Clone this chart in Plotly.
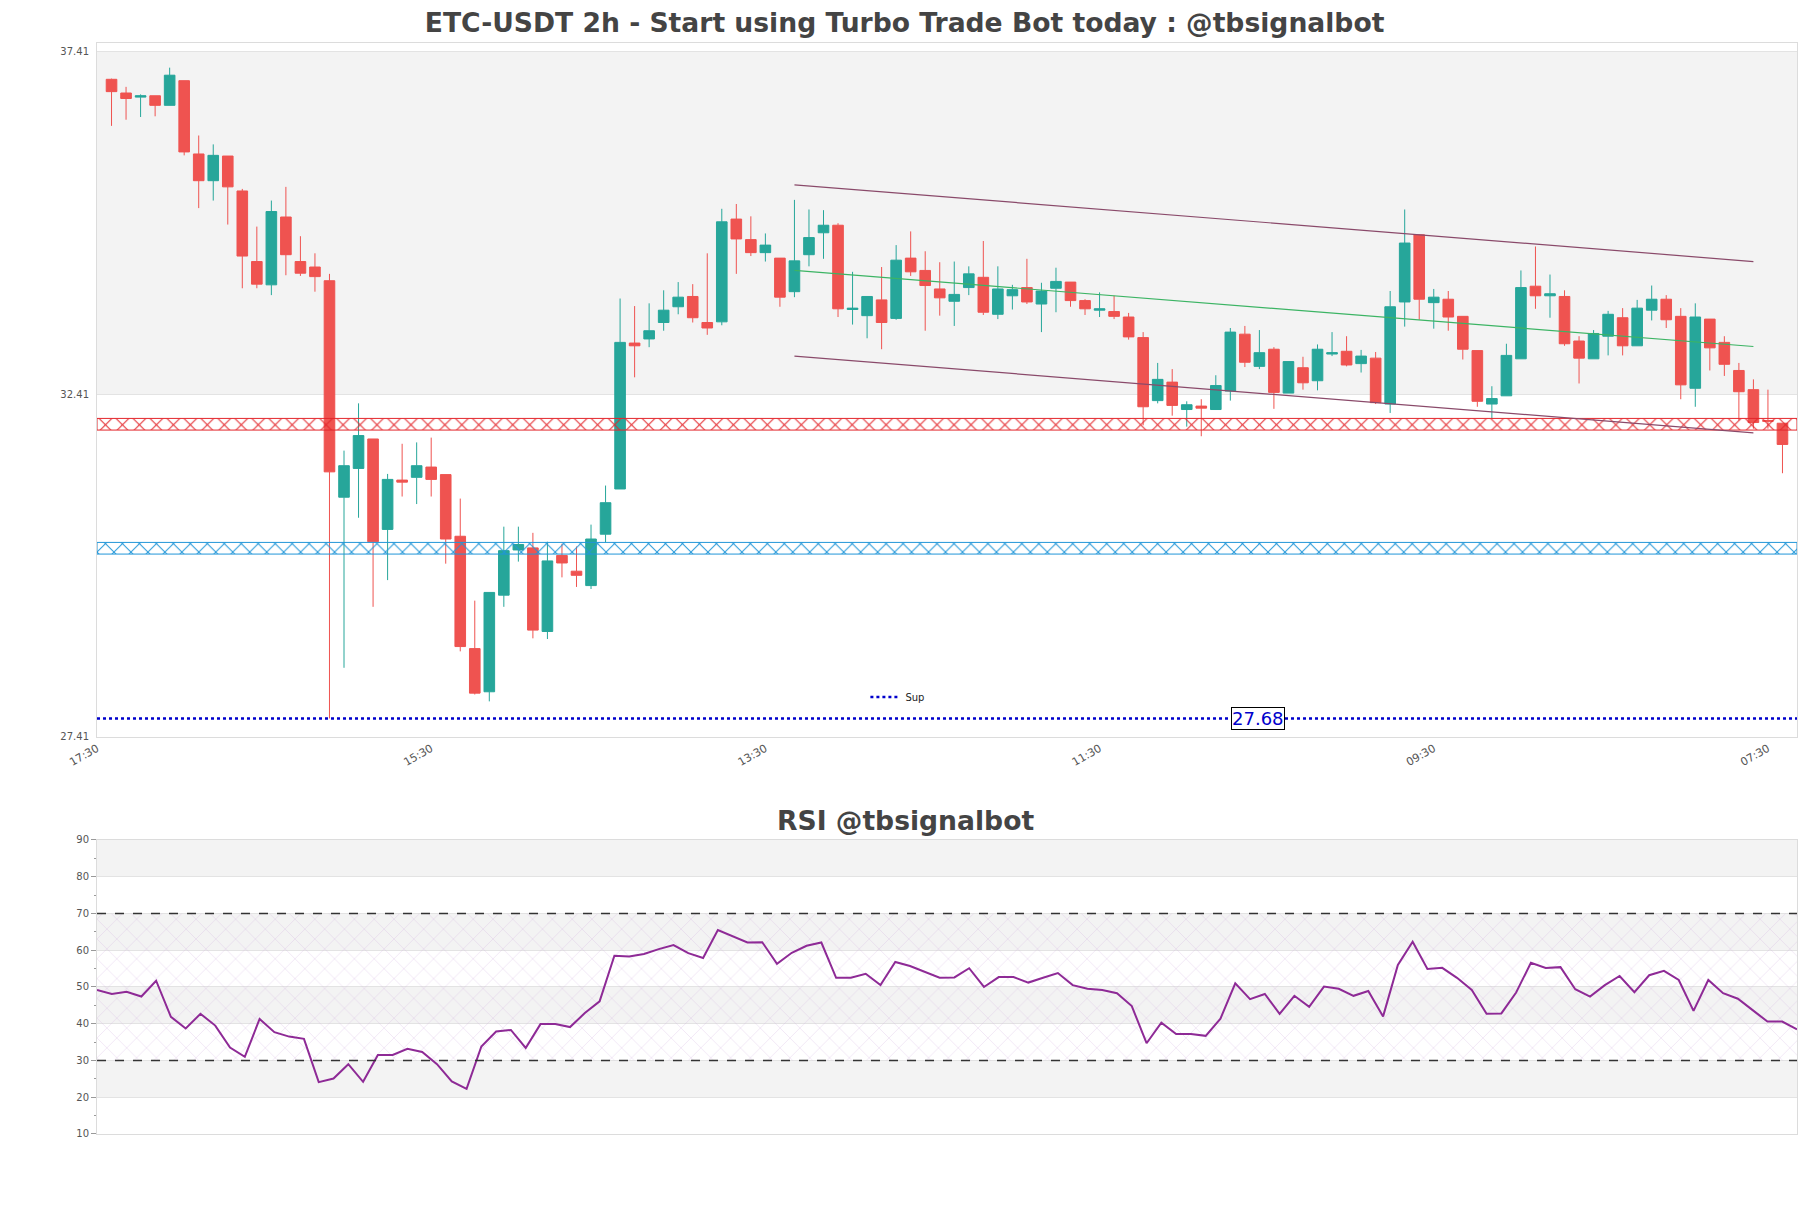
import plotly.graph_objects as go
from datetime import datetime, timedelta

# ---------------- data ----------------
opens = [37.01, 36.81, 36.75, 36.77, 36.63, 36.99, 35.92, 35.53, 35.89, 35.38,
         34.35, 34.01, 35.00, 34.35, 34.27, 34.07, 30.91, 31.33, 31.76, 30.44,
         31.16, 31.20, 31.35, 31.24, 30.34, 28.70, 28.07, 29.48, 30.14, 30.17,
         28.95, 30.06, 29.83, 29.62, 30.37, 31.03, 33.16, 33.22, 33.46, 33.69,
         33.84, 33.46, 33.47, 34.97, 34.67, 34.48, 34.40, 33.91, 34.45, 34.77,
         34.88, 33.65, 33.56, 33.79, 33.52, 34.40, 34.22, 33.95, 33.77, 33.97,
         34.12, 33.58, 33.85, 33.97, 33.73, 33.96, 34.05, 33.78, 33.64, 33.62,
         33.54, 33.24, 32.32, 32.59, 32.19, 32.24, 32.19, 32.46, 33.29, 32.82,
         33.07, 32.43, 32.80, 32.61, 33.00, 33.04, 32.86, 32.94, 32.27, 33.76,
         34.74, 33.75, 33.80, 33.55, 33.05, 32.27, 32.39, 32.93, 33.99, 33.85,
         33.84, 33.19, 32.93, 33.26, 33.53, 33.12, 33.64, 33.80, 33.55, 32.50,
         33.51, 33.17, 32.76, 32.48, 32.03, 31.99]
highs = [37.02, 36.90, 36.79, 36.77, 37.18, 36.99, 36.19, 36.06, 35.89, 35.41,
         34.86, 35.24, 35.44, 34.72, 34.47, 34.17, 31.59, 32.28, 31.76, 31.25,
         31.69, 31.71, 31.78, 31.24, 30.89, 29.40, 29.52, 30.48, 30.48, 30.39,
         30.26, 30.23, 30.19, 30.51, 31.08, 33.81, 33.70, 33.74, 33.93, 34.05,
         34.02, 34.47, 35.12, 35.19, 35.01, 34.76, 34.40, 35.25, 35.11, 35.10,
         34.91, 34.20, 33.84, 34.27, 34.59, 34.79, 34.50, 34.34, 34.35, 34.28,
         34.65, 34.28, 34.01, 34.39, 34.04, 34.26, 34.05, 33.80, 33.90, 33.85,
         33.60, 33.32, 32.87, 32.78, 32.31, 32.34, 32.69, 33.38, 33.41, 33.35,
         33.10, 32.89, 32.96, 33.14, 33.32, 33.26, 33.06, 33.03, 33.92, 35.11,
         34.74, 33.95, 33.92, 33.55, 33.05, 32.53, 33.15, 34.22, 34.57, 34.16,
         33.93, 33.26, 33.35, 33.63, 33.67, 33.79, 34.00, 33.86, 33.67, 33.74,
         33.51, 33.26, 32.87, 32.63, 32.48, 31.99]
lows = [36.33, 36.42, 36.46, 36.47, 36.63, 35.90, 35.13, 35.24, 34.89, 33.96,
        33.96, 33.86, 34.15, 34.14, 33.91, 27.68, 28.42, 30.61, 29.31, 29.70,
        30.92, 30.81, 30.92, 29.94, 28.66, 28.03, 27.93, 29.31, 29.97, 28.85,
        28.84, 29.74, 29.60, 29.57, 30.25, 31.03, 32.66, 33.10, 33.34, 33.58,
        33.46, 33.28, 33.42, 34.17, 34.43, 34.35, 33.69, 33.83, 34.28, 34.39,
        33.54, 33.43, 33.23, 33.07, 33.50, 34.14, 33.34, 33.56, 33.41, 33.86,
        33.57, 33.51, 33.65, 33.73, 33.32, 33.61, 33.69, 33.57, 33.54, 33.51,
        33.21, 31.96, 32.28, 32.10, 31.94, 31.80, 32.19, 32.32, 32.81, 32.78,
        32.20, 32.43, 32.48, 32.47, 32.97, 32.82, 32.73, 32.27, 32.14, 33.40,
        33.50, 33.37, 33.34, 32.92, 32.23, 32.05, 32.39, 32.93, 33.66, 33.53,
        33.12, 32.57, 32.93, 32.98, 32.98, 33.12, 33.49, 33.38, 32.34, 32.23,
        32.76, 32.68, 32.03, 31.91, 31.91, 31.26]
closes = [36.83, 36.73, 36.77, 36.63, 37.07, 35.95, 35.53, 35.90, 35.44, 34.43,
          34.02, 35.08, 34.45, 34.18, 34.13, 31.28, 31.37, 31.81, 30.26, 31.17,
          31.13, 31.37, 31.17, 30.30, 28.73, 28.05, 29.52, 30.13, 30.22, 28.97,
          29.98, 29.95, 29.77, 30.30, 30.83, 33.17, 33.12, 33.34, 33.64, 33.83,
          33.53, 33.38, 34.93, 34.68, 34.48, 34.59, 33.83, 34.36, 34.70, 34.88,
          33.66, 33.67, 33.84, 33.46, 34.37, 34.20, 34.00, 33.82, 33.87, 34.17,
          33.61, 33.95, 33.94, 33.76, 33.92, 34.06, 33.78, 33.66, 33.66, 33.55,
          33.25, 32.23, 32.63, 32.25, 32.26, 32.21, 32.54, 33.32, 32.88, 33.02,
          32.44, 32.89, 32.58, 33.07, 33.02, 32.84, 32.97, 32.29, 33.69, 34.62,
          33.80, 33.83, 33.54, 33.07, 32.31, 32.35, 32.98, 33.97, 33.85, 33.88,
          33.15, 32.94, 33.30, 33.58, 33.12, 33.67, 33.80, 33.50, 32.55, 33.54,
          33.09, 32.85, 32.45, 32.00, 32.02, 31.68]
rsi = [49.2, 48.1, 48.7, 47.4, 51.7, 41.9, 38.7, 42.7, 39.5, 33.5,
       31.0, 41.3, 37.7, 36.5, 35.9, 24.1, 25.1, 29.0, 24.2, 31.5,
       31.5, 33.2, 32.3, 29.0, 24.3, 22.3, 33.8, 37.9, 38.3, 33.4,
       39.9, 39.9, 39.1, 42.9, 46.1, 58.5, 58.3, 59.0, 60.3, 61.4,
       59.2, 57.9, 65.5, 63.7, 62.1, 62.2, 56.3, 59.3, 61.2, 62.1,
       52.5, 52.5, 53.6, 50.5, 56.8, 55.7, 54.2, 52.5, 52.6, 55.1,
       50.0, 52.7, 52.7, 51.2, 52.5, 53.8, 50.5, 49.5, 49.2, 48.3,
       44.8, 34.7, 40.3, 37.2, 37.2, 36.7, 41.4, 51.0, 46.7, 48.1,
       42.7, 47.6, 44.6, 50.1, 49.5, 47.6, 48.9, 42.0, 56.0, 62.3,
       54.9, 55.2, 52.5, 49.2, 42.7, 42.8, 48.5, 56.6, 55.2, 55.4,
       49.4, 47.4, 50.5, 53.0, 48.6, 53.2, 54.4, 51.9, 43.5, 51.9,
       48.3, 46.8, 43.7, 40.6, 40.6, 38.5]

tick_labels = ["17:30", "15:30", "13:30", "11:30", "09:30", "07:30"]
price_ticks = [27.41, 32.41, 37.41]
rsi_ticks = [10, 20, 30, 40, 50, 60, 70, 80, 90]
sup_level = 27.68
res_zone = [31.89, 32.06]
sup_zone = [30.08, 30.25]
channel_idx = [47, 113]
channel_upper = [35.47, 34.35]
channel_mid = [34.22, 33.11]
channel_lower = [32.97, 31.85]
rsi_levels = [30, 70]

# ---------------- time axis ----------------
start = datetime(2023, 11, 20, 19, 30)
step = timedelta(hours=2)
times = [start + i * step for i in range(len(opens))]
x_lo = start - step
x_hi = times[-1] + step
tickvals = [x_lo + i * 23 * step for i in range(len(tick_labels))]

INC = "#26a69a"
DEC = "#ef5350"
FONT = "DejaVu Sans"

fig = go.Figure()

# hatched zones
for zone, col in [(res_zone, "#e3262b"), (sup_zone, "#2196d8")]:
    fig.add_trace(go.Scatter(
        x=[x_lo, x_hi, x_hi, x_lo, x_lo],
        y=[zone[0], zone[0], zone[1], zone[1], zone[0]],
        fill="toself", mode="lines",
        line=dict(width=1, color=col),
        fillcolor="rgba(0,0,0,0)",
        fillpattern=dict(shape="x", fgcolor=col, fgopacity=1,
                         bgcolor="rgba(255,255,255,0)", size=12, solidity=0.16),
        showlegend=False, hoverinfo="skip", xaxis="x", yaxis="y"))

# channel lines
cx = [times[channel_idx[0]], times[channel_idx[1]]]
for ys, col in [(channel_upper, "#8a4a6a"), (channel_lower, "#8a4a6a"),
                (channel_mid, "#3cb464")]:
    fig.add_trace(go.Scatter(x=cx, y=ys, mode="lines",
                             line=dict(color=col, width=1.2),
                             showlegend=False, hoverinfo="skip"))

# support line
fig.add_trace(go.Scatter(x=[x_lo, x_hi], y=[sup_level, sup_level], mode="lines",
                         name="Sup", line=dict(color="#0000cc", width=2.5, dash="dot"),
                         showlegend=True))

# candles
fig.add_trace(go.Candlestick(
    x=times, open=opens, high=highs, low=lows, close=closes,
    increasing=dict(line=dict(color=INC, width=1), fillcolor=INC),
    decreasing=dict(line=dict(color=DEC, width=1), fillcolor=DEC),
    showlegend=False, whiskerwidth=0))

# RSI hatch region
fig.add_trace(go.Scatter(
    x=[times[0], times[-1], times[-1], times[0], times[0]],
    y=[rsi_levels[0], rsi_levels[0], rsi_levels[1], rsi_levels[1], rsi_levels[0]],
    fill="toself", mode="lines", line=dict(width=0),
    fillcolor="rgba(0,0,0,0)",
    fillpattern=dict(shape="x", fgcolor="rgb(205,165,220)", fgopacity=0.6,
                     bgcolor="rgba(255,255,255,0)", size=14, solidity=0.06),
    showlegend=False, hoverinfo="skip", xaxis="x2", yaxis="y2"))

fig.add_trace(go.Scatter(x=times, y=rsi, mode="lines",
                         line=dict(color="#8e2a96", width=2),
                         showlegend=False, xaxis="x2", yaxis="y2"))

# RSI levels
for lv in rsi_levels:
    fig.add_trace(go.Scatter(x=[times[0], times[-1]], y=[lv, lv], mode="lines",
                             line=dict(color="#333333", width=1.3, dash="dash"),
                             showlegend=False, hoverinfo="skip",
                             xaxis="x2", yaxis="y2"))

shapes = [dict(type="rect", xref="x domain", yref="y", x0=0, x1=1,
               y0=price_ticks[1], y1=price_ticks[2],
               fillcolor="#f3f3f3", line=dict(width=0), layer="below")]
for i in range(1, len(rsi_ticks) - 1, 2):
    shapes.append(dict(type="rect", xref="x2 domain", yref="y2", x0=0, x1=1,
                       y0=rsi_ticks[i], y1=rsi_ticks[i + 1],
                       fillcolor="#f3f3f3", line=dict(width=0), layer="below"))

fig.update_layout(
    width=1811, height=1208,
    margin=dict(l=97, r=14, t=43, b=74),
    paper_bgcolor="white", plot_bgcolor="white",
    font=dict(family=FONT, color="#444"),
    boxgap=0.27, boxgroupgap=0,
    title=dict(text="<b>ETC-USDT 2h - Start using Turbo Trade Bot today : @tbsignalbot</b>",
               x=0.4995, xanchor="center", y=0.9815, yanchor="middle",
               font=dict(family=FONT, size=26.6, color="#444")),
    shapes=shapes,
    showlegend=True,
    legend=dict(x=0.452, y=0.4005, xanchor="left", yanchor="middle",
                bgcolor="rgba(0,0,0,0)", font=dict(family=FONT, size=10, color="#222")),
    xaxis=dict(domain=[0, 1], anchor="y", type="date", range=[x_lo, x_hi],
               tickvals=tickvals, ticktext=tick_labels, tickangle=-30,
               tickfont=dict(family=FONT, size=11, color="#555"),
               showgrid=False, showline=True, mirror=True, linecolor="#dcdcdc",
               rangeslider=dict(visible=False), zeroline=False),
    yaxis=dict(domain=[0.3639, 1], anchor="x", range=[27.41, 37.54],
               tickvals=price_ticks, tickfont=dict(family=FONT, size=10, color="#555"),
               ticks="outside", ticklen=5, tickcolor="rgba(0,0,0,0)",
               showgrid=True, gridcolor="#e3e3e3", showline=True, mirror=True,
               linecolor="#dcdcdc", zeroline=False),
    xaxis2=dict(domain=[0, 1], anchor="y2", type="date", range=[times[0], times[-1]],
                showticklabels=False, showgrid=False, showline=True, mirror=True,
                linecolor="#dcdcdc", zeroline=False),
    yaxis2=dict(domain=[0, 0.2695], anchor="x2", range=[10, 90],
                tickvals=rsi_ticks, tickfont=dict(family=FONT, size=10, color="#555"),
                ticks="outside", ticklen=5, tickcolor="#999",
                minor=dict(ticks="outside", ticklen=2, dtick=5, tickcolor="#999", showgrid=False),
                showgrid=True, gridcolor="#e3e3e3", showline=True, mirror=True,
                linecolor="#dcdcdc", zeroline=False),
    annotations=[
        dict(text="<b>RSI @tbsignalbot</b>", xref="paper", yref="paper",
             x=0.4753, y=0.2878, xanchor="center", yanchor="middle",
             showarrow=False, font=dict(family=FONT, size=26.6, color="#444")),
        dict(text="27.68", xref="x", yref="y",
             x=start + timedelta(hours=2 * 78.9), y=sup_level,
             showarrow=False, font=dict(family=FONT, size=18, color="#0000cc"),
             bgcolor="white", bordercolor="black", borderwidth=1, borderpad=0),
    ],
)

# remove the browser's default 8px body margin so the figure fills the window
fig.write_html("out.html",
               config={"displayModeBar": False},
               post_script="document.body.style.margin='0px';document.body.style.overflow='hidden';")
